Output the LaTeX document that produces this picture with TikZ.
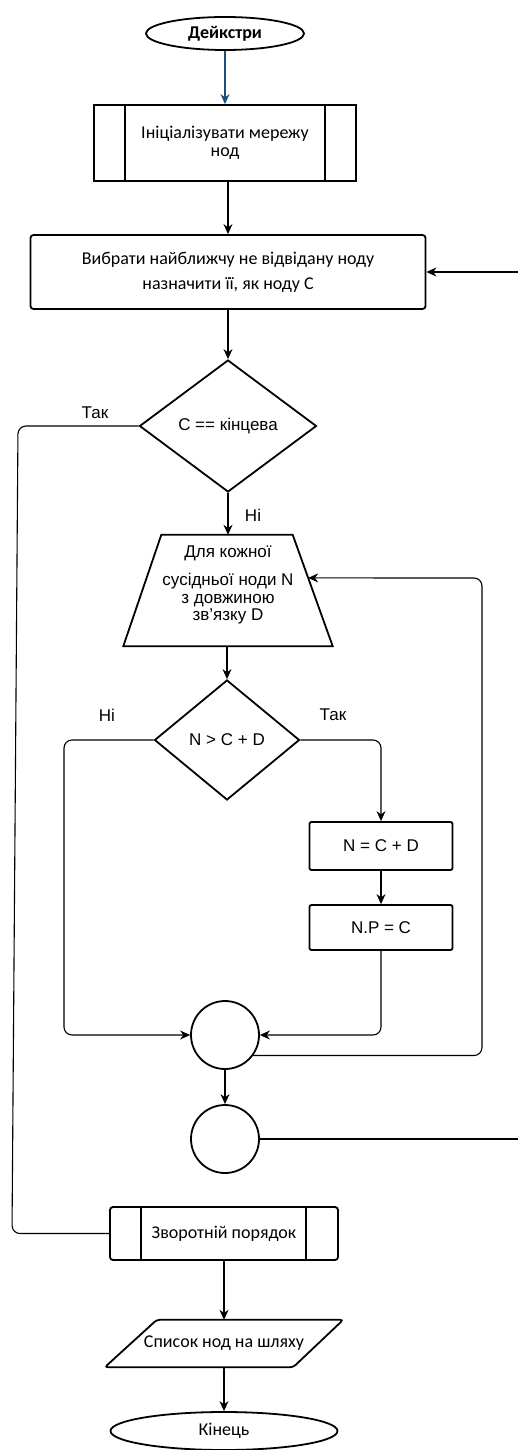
\documentclass[tikz,border=0pt]{standalone}
\usepackage{fontspec}
\setmainfont{Carlito}
\newfontfamily\arialf{Liberation Sans}
\usetikzlibrary{shapes.geometric,arrows.meta,calc}
\definecolor{arrowblue}{RGB}{31,78,121}
\begin{document}
\begin{tikzpicture}[x=1pt,y=-1pt,
  blk/.style={draw, line width=1.8pt, inner sep=0pt, align=center},
  con/.style={line width=1.1pt, -{Stealth[length=10pt,width=9pt]}},
  plain/.style={line width=1.1pt},
  cal/.style={font=\fontsize{18}{21}\selectfont},
  ari/.style={font=\arialf\fontsize{17}{20}\selectfont},
  lbl/.style={ari, inner sep=0pt},
]
\useasboundingbox (0,0) rectangle (518,1450);

% nodes
\node[blk, ellipse, minimum width=158, minimum height=33, font=\bfseries\fontsize{18}{21}\selectfont] (start) at (225,33.5) {Дейкстри};

\node[blk, minimum width=262, minimum height=76, font=\fontsize{18}{18}\selectfont] (init) at (225,143) {Ініціалізувати мережу\\нод};
\draw[line width=1.8pt] ($(init.north west)+(32,0)$) -- ($(init.south west)+(32,0)$);
\draw[line width=1.8pt] ($(init.north east)+(-32,0)$) -- ($(init.south east)+(-32,0)$);

\node[blk, rounded corners=3pt, minimum width=395, minimum height=74, font=\fontsize{18}{25}\selectfont] (sel) at (228,272) {Вибрати найближчу не відвідану ноду\\назначити її, як ноду C};

\node[blk, diamond, minimum width=177, minimum height=132, ari] (d1) at (228,426) {C == кінцева};

\node[minimum width=209, minimum height=111, inner sep=0pt] (tr) at (228,590.5) {};
\coordinate (trne) at ($(tr.north east)+(-40,0)$);
\coordinate (trnw) at ($(tr.north west)+(38,0)$);
\draw[line width=1.8pt] (tr.south west) -- (tr.south east) -- (trne) -- (trnw) -- cycle;
\node[align=center, inner sep=0pt, font=\arialf\fontsize{17}{17.5}\selectfont] (trt) at (228,585) {Для кожної\\[11pt]сусідньої ноди N\\з довжиною\\зв’язку D};
\coordinate (trin) at ($(tr.south east)!0.613!(trne)$);

\node[blk, diamond, minimum width=145, minimum height=120, ari] (d2) at (227,740) {N > C + D};

\node[blk, rounded corners=2pt, minimum width=143, minimum height=48, ari] (b1) at (381,846) {N = C + D};
\node[blk, rounded corners=2pt, minimum width=143, minimum height=45, ari] (b2) at (381,927.5) {N.P = C};

\node[blk, circle, minimum size=68] (c1) at (225,1035) {};
\node[blk, circle, minimum size=68] (c2) at (225,1139) {};

\node[blk, rounded corners=3pt, minimum width=228, minimum height=53, cal] (rev) at (224,1233.5) {Зворотній порядок};
\draw[line width=1.8pt] ($(rev.north west)+(32,0)$) -- ($(rev.south west)+(32,0)$);
\draw[line width=1.8pt] ($(rev.north east)+(-33,0)$) -- ($(rev.south east)+(-33,0)$);

\node[minimum width=238, minimum height=47, inner sep=0pt, cal] (out) at (224,1343.5) {Список нод на шляху};
\draw[line width=1.8pt, rounded corners=3pt] (out.south west) -- ($(out.north west)+(52,0)$) -- (out.north east) -- ($(out.south east)+(-50,0)$) -- cycle;

\node[blk, ellipse, minimum width=227, minimum height=38, cal] (end) at (224,1431) {Кінець};

% labels
\node[lbl] (l1) at (95,413) {Так};
\node[lbl] (l2) at (253,515) {Ні};
\node[lbl] (l3) at (107,715) {Ні};
\node[lbl] (l4) at (333,715) {Так};

% connectors
\draw[con, draw=arrowblue, fill=arrowblue] (start.south) -- (init.north);
\draw[con] (sel.north |- init.south) -- (sel.north);
\draw[con] (sel.south) -- (d1.north);
\draw[con] (d1.south) -- (tr.north);
\draw[con] (d2.north |- tr.south) -- (d2.north);

\coordinate (ty1) at (18,426);
\coordinate (ty2) at (12,1233.5);
\draw[plain, rounded corners=8pt] (d1.west) -- (ty1) -- (ty2) -- (rev.west);

\coordinate (nl) at (64,740);
\draw[con, rounded corners=8pt] (d2.west) -- (nl) |- (c1.west);
\draw[con, rounded corners=8pt] (d2.east) -| (b1.north);
\draw[con] (b1.south) -- (b2.north);
\draw[con, rounded corners=8pt] (b2.south) |- (c1.east);

\coordinate (c1o) at (c1.-36);
\coordinate (lpt) at (482,578);
\draw[con, rounded corners=8pt] (c1o) -| (lpt) -- (trin);

\draw[con] (c1.south) -- (c2.north);
\coordinate (re2) at (518,1139);
\draw[plain] (c2.east) -- (re2);
\coordinate (re1) at (518,272);
\draw[con] (re1) -- (sel.east);

\draw[con] (rev.south) -- (out.north);
\draw[con] (out.south) -- (end.north);
\end{tikzpicture}
\end{document}
